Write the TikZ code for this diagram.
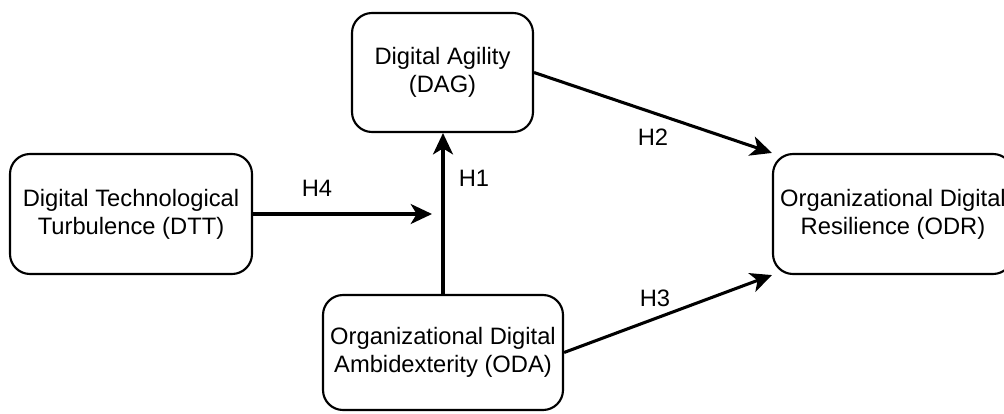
\documentclass[tikz,border=0pt]{standalone}
\usepackage{fontspec}
\setmainfont{Liberation Sans}
\usetikzlibrary{arrows.meta}
\begin{document}
\begin{tikzpicture}[x=0.75pt,y=-0.75pt,
  font=\fontsize{17.8}{21}\selectfont,
  box/.style={draw=black, line width=1.6pt, rounded corners=15pt, align=center, inner sep=0pt, fill=white},
  link/.style={line width=2.3pt, -{Stealth[length=16pt,width=15pt,inset=4.5pt]}},
  hlabel/.style={inner sep=0pt}]
\useasboundingbox (0,0) rectangle (1004,414);
\begin{scope}
\clip (0,0) rectangle (1004,414);
\node[box, minimum width=135.75pt, minimum height=89.25pt] (dag) at (442.5,72.5) {Digital Agility\\(DAG)};
\node[box, minimum width=181.5pt, minimum height=90pt] (dtt) at (131,214) {Digital Technological\\Turbulence (DTT)};
\node[box, minimum width=180pt, minimum height=86.25pt] (oda) at (443,352.5) {Organizational Digital\\Ambidexterity (ODA)};
\node[box, minimum width=180pt, minimum height=90pt] (odr) at (893,214) {Organizational Digital\\Resilience (ODR)};
\end{scope}
\coordinate (h4end) at (432,214);
\draw[link] (oda.north) -- (oda.north |- dag.south);
\draw[link] (dtt.east) -- (h4end);
\draw[link] (dag.east) -- (odr.north west);
\draw[link] (oda.east) -- (odr.south west);
\node[hlabel] (lh4) at (317,188) {H4};
\node[hlabel] (lh1) at (474,178) {H1};
\node[hlabel] (lh2) at (653,137) {H2};
\node[hlabel] (lh3) at (655,298) {H3};
\end{tikzpicture}
\end{document}
